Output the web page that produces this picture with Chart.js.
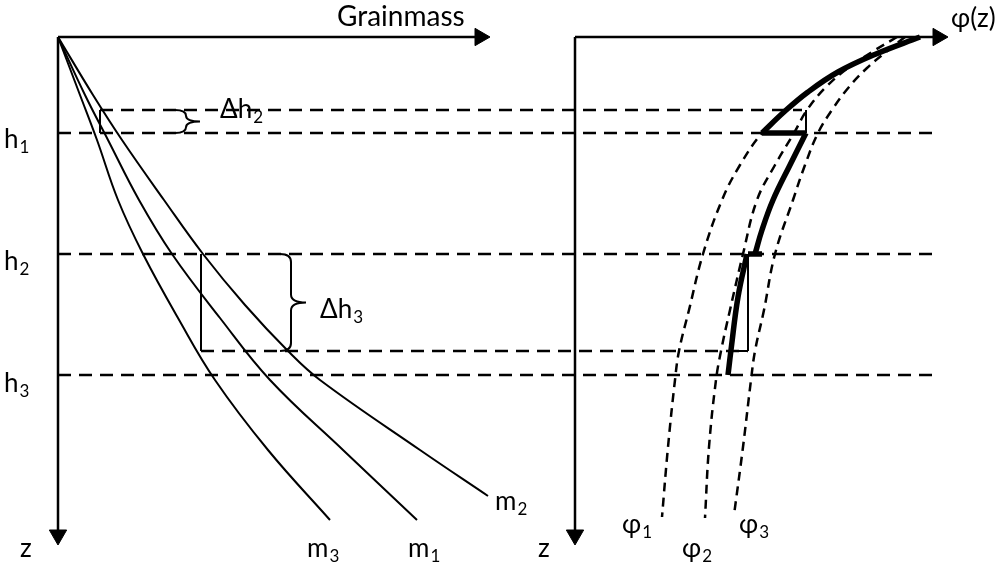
<!DOCTYPE html>
<html>
<head>
<meta charset="utf-8">
<script src="https://cdn.jsdelivr.net/npm/chart.js@4/dist/chart.umd.min.js"></script>
<style>
  html, body { margin: 0; padding: 0; background: #fff; }
  canvas { display: block; }
</style>
</head>
<body>
<canvas id="diagram" width="1003" height="567"></canvas>
<script>
// --- diagram values (x: grain mass / φ, y: depth z, growing downwards) ---

// axes: origin and end of each axis
const massAxis = [[58, 37], [480, 37]];
const massDepthAxis = [[58, 37], [58, 535]];
const phiAxis = [[575, 37], [938, 37]];
const phiDepthAxis = [[575, 37], [575, 535]];

// layer depths h1, h2, h3 and the shifted depths h1-Δh2, h2+Δh3
const layerDepths = [133, 254, 375];
const layerSpan = [58, 935];
const shiftedDepths = [110, 351];
const shiftedSpans = [[100, 802], [201, 748]];

// cumulative grain mass curves
const m3Curve = [[58, 37], [80, 95], [97, 140], [118, 200], [143, 254], [178, 318], [215, 380], [268, 450], [330, 520]];
const m1Curve = [[58, 37], [85, 95], [108, 140], [139, 200], [172, 254], [220, 318], [270, 380], [343, 450], [417, 520]];
const m2Curve = [[58, 37], [93, 95], [122, 140], [164, 200], [203, 254], [245, 305], [288, 351], [320, 380], [420, 450], [488, 496]];

// φ(z) profiles
const phi1Curve = [[920, 37], [876, 54], [838, 72], [808, 92], [784, 112], [762, 133], [740, 165], [722, 200], [703, 254], [689, 310], [679, 351], [675, 380], [668, 447], [662, 517]];
const phi2Curve = [[897, 37], [872, 52], [848, 68], [826, 87], [807, 110], [794, 133], [775, 165], [757, 200], [743, 254], [730, 310], [721, 351], [716, 380], [709, 447], [705, 518]];
const phi3Curve = [[905, 37], [886, 52], [867, 68], [849, 87], [832, 110], [818, 133], [805, 165], [793, 200], [775, 254], [764, 310], [755, 351], [751, 380], [743, 447], [734, 515]];

// resulting profile, piece by piece
const resultLayer1 = [[920, 37], [876, 54], [838, 72], [808, 92], [784, 112], [762, 133]];
const resultStep1 = [[762, 133], [806, 133]];
const resultLayer2 = [[806, 133], [790, 165], [773, 200], [762, 230], [755, 254]];
const resultStep2 = [[748, 254], [762, 254]];
const resultLayer3 = [[747, 254], [738, 297], [731, 350], [728, 375]];

// Δh markers
const markers = [
  [[100, 110], [100, 133]],
  [[201, 254], [201, 351]],
  [[806, 110], [806, 133]],
  [[748, 254], [748, 351]],
  [[736, 351], [748, 351]]
];

// braces: [open x, spine x, tip x, top, bottom]
const braces = [
  [175, 186, 200, 110, 133],
  [280, 291, 306, 254, 351]
];

// text: [text, subscript, x, baseline]
const labels = [
  ['Grainmass', '', 337, 26],
  ['φ(z)', '', 951, 27],
  ['h', '1', 4, 148],
  ['h', '2', 4, 270],
  ['h', '3', 4, 392],
  ['z', '', 20, 557],
  ['z', '', 538, 557],
  ['m', '3', 307, 557],
  ['m', '1', 408, 557],
  ['m', '2', 495, 510],
  ['φ', '1', 622, 533],
  ['φ', '2', 682, 557],
  ['φ', '3', 739, 533],
  ['Δh', '2', 220, 118],
  ['Δh', '3', 320, 318]
];

const FONT = 'Lato, "Open Sans", sans-serif';

function path(points, style) {
  return Object.assign({
    data: points.map(([x, y]) => ({ x, y })),
    showLine: true,
    pointRadius: 0,
    borderColor: '#000',
    borderWidth: 2,
    tension: 0.4,
    fill: false
  }, style);
}

const dashedLevel = { borderWidth: 2.5, borderDash: [13, 8], tension: 0 };
const dashedPhi = { borderWidth: 2.5, borderDash: [9, 6] };
const thick = { borderWidth: 5.5 };

const datasets = [
  path(massAxis, { borderWidth: 2.5, tension: 0 }),
  path(massDepthAxis, { borderWidth: 2.5, tension: 0 }),
  path(phiAxis, { borderWidth: 2.5, tension: 0 }),
  path(phiDepthAxis, { borderWidth: 2.5, tension: 0 }),
  ...layerDepths.map(d => path([[layerSpan[0], d], [layerSpan[1], d]], dashedLevel)),
  ...shiftedDepths.map((d, i) => path([[shiftedSpans[i][0], d], [shiftedSpans[i][1], d]], dashedLevel)),
  path(m3Curve, {}),
  path(m1Curve, {}),
  path(m2Curve, {}),
  path(phi1Curve, dashedPhi),
  path(phi2Curve, dashedPhi),
  path(phi3Curve, dashedPhi),
  ...markers.map(m => path(m, { tension: 0 })),
  path(resultLayer1, thick),
  path(resultStep1, Object.assign({}, thick, { tension: 0 })),
  path(resultLayer2, thick),
  path(resultStep2, Object.assign({}, thick, { tension: 0 })),
  path(resultLayer3, thick),
  // arrow heads at the axis ends
  {
    data: [massAxis[1], phiAxis[1], massDepthAxis[1], phiDepthAxis[1]].map(([x, y]) => ({ x, y })),
    pointStyle: 'triangle',
    pointRadius: 10,
    pointRotation: [90, 90, 180, 180],
    pointBackgroundColor: '#000',
    pointBorderColor: '#000',
    pointBorderWidth: 1,
    showLine: false
  }
];

// braces and labels are drawn on top of the datasets
const annotations = {
  id: 'annotations',
  afterDatasetsDraw(chart) {
    const { ctx, scales: { x, y } } = chart;
    ctx.save();
    ctx.strokeStyle = '#000';
    ctx.lineWidth = 2;
    braces.forEach(([open, spine, tip, top, bottom]) => {
      const xo = x.getPixelForValue(open), xs = x.getPixelForValue(spine), xt = x.getPixelForValue(tip);
      const yt = y.getPixelForValue(top), yb = y.getPixelForValue(bottom), ym = (yt + yb) / 2;
      const r = Math.min(8, (yb - yt) / 4);
      ctx.beginPath();
      ctx.moveTo(xo, yt);
      ctx.quadraticCurveTo(xs, yt, xs, yt + r);
      ctx.lineTo(xs, ym - r);
      ctx.quadraticCurveTo(xs, ym, xt, ym);
      ctx.moveTo(xt, ym);
      ctx.quadraticCurveTo(xs, ym, xs, ym + r);
      ctx.lineTo(xs, yb - r);
      ctx.quadraticCurveTo(xs, yb, xo, yb);
      ctx.stroke();
    });

    ctx.fillStyle = '#000';
    ctx.textBaseline = 'alphabetic';
    labels.forEach(([text, sub, lx, ly]) => {
      const px = x.getPixelForValue(lx), py = y.getPixelForValue(ly);
      ctx.font = (text === 'Grainmass' ? '28px ' : '26px ') + FONT;
      ctx.fillText(text, px, py);
      if (sub) {
        const w = ctx.measureText(text).width;
        ctx.font = '17px ' + FONT;
        ctx.fillText(sub, px + w + 1, py + 5);
      }
    });
    ctx.restore();
  }
};

new Chart(document.getElementById('diagram'), {
  type: 'scatter',
  data: { datasets },
  options: {
    responsive: false,
    animation: false,
    events: [],
    layout: { padding: 0, autoPadding: false },
    plugins: { legend: { display: false }, tooltip: { enabled: false } },
    scales: {
      x: { type: 'linear', min: 0, max: 1003, display: false },
      y: { type: 'linear', min: 0, max: 567, reverse: true, display: false }
    }
  },
  plugins: [annotations]
});
</script>
</body>
</html>
